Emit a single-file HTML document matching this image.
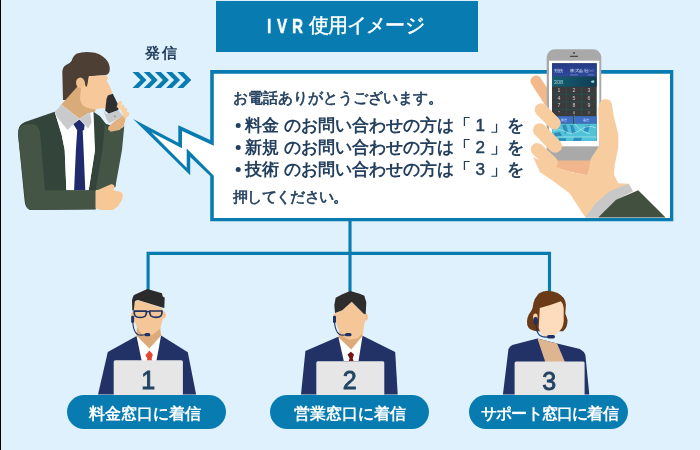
<!DOCTYPE html>
<html><head><meta charset="utf-8">
<style>
html,body{margin:0;padding:0;}
body{width:700px;height:450px;overflow:hidden;background:#dff1fd;position:relative;font-family:"Liberation Sans",sans-serif;}
svg{position:absolute;left:0;top:0;will-change:transform;}
.t{position:absolute;white-space:nowrap;line-height:1;will-change:transform;}
</style></head><body>
<svg width="700" height="450" viewBox="0 0 700 450">
  <rect x="0" y="0" width="1" height="450" fill="#000"/>
  <!-- title box -->
  <rect x="216" y="1" width="262" height="51" fill="#087cb1"/>
  <!-- connector lines -->
  <path d="M350 219 V292 M148.1 290 V253.4 H549.5 V292" fill="none" stroke="#087cb1" stroke-width="3.1"/>
  <!-- bubble -->
  <path d="M210.2,70 L673.3,70 L673.3,221.3 L210.2,221.3 L210.2,176.1 L190.2,157 L190.2,175.2 L133.1,119 L178.3,142.7 L178.3,125.3 L210.2,140 Z" fill="#087cb1"/>
  <path d="M213.8,73.7 L670,73.7 L670,217.9 L213.8,217.9 L213.8,175.7 L186.7,148.6 L186.7,167.7 L151.3,132.3 L182,148.3 L182,131 L213.8,145.7 Z" fill="#ffffff"/>
  <!-- arrows -->
  <g fill="#087cb1">
    <path d="M132.5 72 h6 l8 8 l-8 8 h-6 l8 -8 z"/>
    <path d="M143.7 72 h6 l8 8 l-8 8 h-6 l8 -8 z"/>
    <path d="M154.9 72 h6 l8 8 l-8 8 h-6 l8 -8 z"/>
    <path d="M166.1 72 h6 l8 8 l-8 8 h-6 l8 -8 z"/>
    <path d="M177.3 72 h6 l8 8 l-8 8 h-6 l8 -8 z"/>
  </g>


  <!-- hand with phone -->
  <g id="hand">
    <!-- finger 1 behind (darker) -->
    <line x1="536" y1="81" x2="549" y2="101" stroke="#f2b98c" stroke-width="11" stroke-linecap="round"/>
    <!-- phone body -->
    <rect x="546.7" y="49.3" width="54.6" height="114" rx="8" fill="#a9a9a9"/>
    <rect x="549" y="60.7" width="50.3" height="85.6" fill="#ffffff"/>
    <rect x="552" y="63.3" width="44.7" height="77.7" fill="#3b3b3b"/>
    <defs>
      <linearGradient id="hdr" x1="0" y1="0" x2="0" y2="1"><stop offset="0" stop-color="#253a86"/><stop offset="1" stop-color="#2e4a9a"/></linearGradient>
      <linearGradient id="teal" x1="0" y1="0" x2="1" y2="0"><stop offset="0" stop-color="#175f72"/><stop offset="1" stop-color="#0e3d55"/></linearGradient>
    </defs>
    <rect x="552" y="63.3" width="44.7" height="13.4" fill="url(#hdr)"/>
    <rect x="552" y="76.7" width="44.7" height="10" fill="url(#teal)"/>
    <g fill="#e8ecff" font-size="4.1" font-family="Liberation Sans, sans-serif">
      <text x="554" y="72" textLength="9.5" lengthAdjust="spacingAndGlyphs">発信先</text><text x="570" y="72" textLength="24" lengthAdjust="spacingAndGlyphs">株式会社○○</text>
    </g>
    <path d="M570,74.9 H578 M587.3,74.9 H594" stroke="#8fa3d8" stroke-width="0.6"/>
    <text x="553.8" y="84.2" fill="#9fcfd6" font-size="5.6" font-family="Liberation Sans, sans-serif" textLength="9.5" lengthAdjust="spacingAndGlyphs">308</text>
    <path d="M590.7,81.7 L592,80.6 H594.2 V82.8 H592 Z" fill="#9fcfd6"/>
    <path d="M552,94.3 H596.7 M552,101.9 H596.7 M552,109.3 H596.7 M566.3,86.7 V115.2 M581.4,86.7 V115.2" stroke="#1f5a5c" stroke-width="0.6"/>
    <g fill="#cfcfcf" font-size="5.2" font-family="Liberation Sans, sans-serif" text-anchor="middle">
      <text x="559" y="92.2">1</text><text x="574" y="92.2">2</text><text x="589" y="92.2">3</text>
      <text x="559" y="99.8">4</text><text x="574" y="99.8">5</text><text x="589" y="99.8">6</text>
      <text x="559" y="107.4">7</text><text x="574" y="107.4">8</text><text x="589" y="107.4">9</text>
      <text x="559" y="114.2" font-size="4">*</text><text x="574" y="114" font-size="4">0</text><text x="589" y="114" font-size="4">#</text>
    </g>
    <rect x="552" y="116.2" width="21" height="7.5" fill="#3e6fc4"/>
    <rect x="574.9" y="116.2" width="21.8" height="7.5" fill="#3e6fc4"/>
    <rect x="552" y="123.7" width="44.7" height="17.3" fill="#52c2d9"/>
    <g fill="#2a86b8" opacity="0.85">
      <path d="M562,125 L566,124.5 L568,131 L565,134 Z"/>
      <path d="M570,125 L573,125 L576,133 L572,134 Z"/>
      <path d="M585,126 L590,125 L588,132 L584,131 Z"/>
      <path d="M554,133 L560,132 L562,136 L555,137 Z"/>
      <path d="M574,137.5 L582,137.5 L581,141 L573,141 Z"/>
      <path d="M559,138 L566,138 L566,141 L558,141 Z"/>
    </g>
    <g fill="none" stroke="#b8eef4" stroke-width="0.7" opacity="0.9">
      <path d="M553,131 Q560,128 566,132 T580,130 T596,128"/>
      <path d="M553,137 H596.7"/>
      <path d="M575,124 Q580,131 590,134"/>
    </g>
    <path d="M574.3,115.2 V123.7" stroke="#3aa6c8" stroke-width="0.8"/>
    <g fill="#dfe6ff" font-size="3" font-family="Liberation Sans, sans-serif"><text x="560.5" y="120.8">発信</text><text x="582.5" y="120.8">着信</text></g>
    <circle cx="574" cy="52.9" r="0.9" fill="#333"/>
    <rect x="570" y="55.8" width="8" height="1" fill="#333"/>
    <!-- palm shadow -->
    <path d="M545,160.6 L592,160.6 L587.5,175.4 L571,172 L545,165 Z" fill="#f2b68c"/>
    <!-- palm / hand -->
    <path d="M533,157 L545,163 L572,172.5 L588,175 L590.6,158.9 L599.4,145.6 L598.3,110 Q598.5,100 605,99 Q611.5,99 612,105 L613.9,116.7 L618.3,134.4 L618.3,147.8 L615,163.3 L613.9,174.4 L618.3,183.3 L628.7,183.8 L632.9,191.2 L616,199.7 L598.1,217.6 L585.4,217.6 L569.6,193.3 L552.7,180.7 L540,172.2 Z" fill="#f7cda0"/>
    <!-- fingers -->
    <g stroke="#f7cda0" stroke-linecap="round">
      <line x1="541.2" y1="109.7" x2="554.2" y2="123" stroke-width="13"/>
      <line x1="539.7" y1="130" x2="555.3" y2="146" stroke-width="13.5"/>
      <line x1="537.3" y1="149.5" x2="551.3" y2="162.5" stroke-width="13"/>
    </g>
    <!-- cuff -->
    <path d="M585.4,217.6 L594.9,203.9 L609.7,191.2 L628.7,183.8 L632.9,191.2 L616,199.7 L598.1,217.6 Z" fill="#c8c8c8"/>
    <!-- sleeve -->
    <path d="M598.1,217.6 L616,199.7 L638.2,190.2 L665.6,217.6 Z" fill="#42503f"/>
  </g>
  <!-- caller -->
  <g id="caller">
    <!-- hair back -->
    <path d="M63,100 L62.3,72 Q62.8,66.5 66,65 Q70,63.5 71.5,61 Q73,55.5 77,53.5 Q84.5,50.8 95,52.8 Q104,55.5 108,62 Q110.5,67 109.5,71.5 Q108.5,75 104,75.3 L89,76.3 L87.5,87.5 L82,90 L66,100 Z" fill="#4e3f34"/>
    <!-- neck -->
    <path d="M60,106 L77,87 L86,86 L88,104 L96,110 L92,115 L80,120 L59,108 Z" fill="#d9ab78"/>
    <!-- face -->
    <path d="M84,80.1 L85.8,87.2 L87.1,85.9 L88.9,76.3 L105.8,75.3 L108,77.4 L106.7,81 L109.3,85.4 L112,91.7 L113,96 L108,108 L100,108.6 L93.3,109.2 Q85,107.5 83,105.5 Q80,102 80,98 L81,88 Z" fill="#f7c89a"/>
    <!-- ear -->
    <ellipse cx="80.3" cy="82.7" rx="4.3" ry="5.3" fill="#f2c08e"/>
    <!-- jacket body dark -->
    <path d="M18.3,130 Q19,124.5 25,122 L54.7,111.7 L61.7,135 L64.7,150 L66.4,190.3 L88.7,190.3 L95,150 L91.6,122.6 L88.9,112.8 L93.5,111.7 L100,116.3 L106,124 L122,128.5 L118,150 L115.3,186.9 L95.6,190.3 L95.6,209.5 L30,210 Q25,208 24.5,200 L18,134 Z" fill="#33443a"/>
    <!-- shirt -->
    <path d="M54.7,111.7 L61.7,104.7 L79.5,118.7 L88.9,112.8 L93.5,111.7 L95,150 L88.7,190.3 L66.4,190.3 L64.7,150 L61.7,135 Z" fill="#ffffff"/>
    <!-- tie -->
    <path d="M73.3,124.1 L79.5,119.4 L84.6,124.9 L84.2,129.5 L82.7,130.7 L83.6,150 L85.3,190.3 L74.1,190.3 L75.9,150 L77.2,130.3 Z" fill="#1f2b6c"/>
    <!-- collar -->
    <path d="M54.7,111.7 L61.7,104.7 L79.5,118.7 L73.3,124.1 L67.5,129.9 L57,117.1 Z" fill="#c9cacb"/>
    <path d="M79.5,118.7 L88.9,112.8 L90.4,113.6 L91.6,122.6 L88.1,128.8 L84.2,124.1 Z" fill="#c9cacb"/>
    <!-- left sleeve light -->
    <path d="M18,134 Q18.5,125 26,124.2 L33.3,124.2 Q38.5,125 40,132 L45,190.3 L95.6,190.3 L95.6,209.1 L32,210 Q26.5,210 25.6,203 Z" fill="#445546"/>
    <!-- right arm light (raised) -->
    <path d="M104.9,124 L108.5,129.6 L110.7,131.7 L119.7,130.1 L124.3,126 L122,150 L115.3,186.9 L95.6,190.3 L102.5,150 Z" fill="#445546"/>
    <!-- lower hand -->
    <path d="M95.6,191.1 L111,184.3 Q114.5,184 114.4,187 L113.6,190.3 L121,192 Q124,194 122.1,199.7 L117.9,206.6 L112.7,210 L100.7,210 L95.6,208.3 Z" fill="#f7c896"/>
    <!-- raised hand wrist -->
    <path d="M108.5,126.4 L114.9,121.1 L122.9,115.2 L125.6,118.9 L124,125.3 L119.7,130.1 L110.7,131.7 L108,129.6 Z" fill="#e2b17f"/>
    <!-- phone -->
    <path d="M103.2,109.9 L106.4,114.1 L118.7,110.4 L122.9,115.7 L109.6,123.2 L106.9,120 Z" fill="#c8c9ca"/>
    <path d="M111.7,93.3 L118.3,109.3" stroke="#d8d8d8" stroke-width="1.2"/>
    <path d="M107.8,95.5 L112.8,93.8 L117.8,104 L118.4,110 L108.7,113.6 L105.2,110.8 L106.5,99 Z" fill="#2f2f2f"/>
    <circle cx="114.9" cy="116.3" r="0.9" fill="#8f8f8f"/>
    <!-- fingers -->
    <path d="M116.5,107.2 L118.7,101.3 Q119.8,100.3 120.8,100.8 Q122.2,101.6 121.9,102.9 L119.7,108.3 Z" fill="#f9cfa0"/>
    <path d="M119.2,108.3 L121.9,104.5 Q123,104.3 124,105.1 Q124.8,106.3 124.5,107.7 L121.9,110.9 Z" fill="#f9cfa0"/>
    <path d="M121.3,111.5 L124,107.7 Q125.5,107.6 126.7,108.3 Q127.5,109.5 127.2,110.9 L123.5,114.7 Z" fill="#f9cfa0"/>
    <path d="M122.4,115.7 L125.6,111.5 Q127,111.3 128.3,112 Q129.5,113.3 129.3,114.7 L125.6,118.9 Z" fill="#f9cfa0"/>
  </g>

  <!-- operator 1 -->
  <g id="op1">
    <path d="M98,394.6 L107.8,352 L136.2,336.2 L161.1,335.4 L187.8,352.2 L196.1,394.6 Z" fill="#223166"/>
    <path d="M136.5,335.8 L141.7,361 L156.4,361 L161.1,335.4 Z" fill="#ffffff"/>
    <path d="M136.5,335.8 L149.4,348.6 L161.1,335.4 L160,326 L137,326 Z" fill="#dcab79"/>
    <path d="M145.4,355.2 L149.4,350.4 L152.9,354.4 L151.6,358.4 L152.2,361 L146.8,361 L147.3,358.4 Z" fill="#e04a35"/>
    <ellipse cx="133.2" cy="315.5" rx="2" ry="4" fill="#f0bf8f"/>
    <ellipse cx="164" cy="315" rx="1.8" ry="3.6" fill="#f0bf8f"/>
    <path d="M133.3,310.3 L134,302.3 L137.3,300.3 L143.3,301.7 L162,308.3 L164,311.7 L164.3,316.3 L162.7,319.7 L160,329 L152,335 L144,336.3 L138.7,330.3 L134.7,322.3 L133,317 Z" fill="#f5c697"/>
    <path d="M132.3,310.5 L132,300.3 Q132.5,297 134,295 L147.3,289 L162,293.3 L162.6,296.2 L164.7,297.7 L164.3,308 L161.3,307.3 L138,300 Q135.5,300.3 134.7,301.7 L133.8,310.5 Z" fill="#2b2b2b"/>
    <path d="M134.2,311.2 H146.4 Q146.6,314.5 145.3,316 Q143.8,317.5 140.3,317.5 Q136.5,317.5 135.2,316 Q134,314.5 134.2,311.2 Z" fill="none" stroke="#1e3163" stroke-width="1.7" stroke-linejoin="round"/>
    <path d="M149.8,311 H162 Q162.2,314.3 160.9,315.8 Q159.4,317.3 155.9,317.3 Q152.1,317.3 150.8,315.8 Q149.6,314.3 149.8,311 Z" fill="none" stroke="#1e3163" stroke-width="1.7" stroke-linejoin="round"/>
    <path d="M146.3,312 Q148,311 149.9,311.8" fill="none" stroke="#1e3163" stroke-width="1.4"/>
    <rect x="131.2" y="315.7" width="2.9" height="7.3" rx="1.3" fill="#1e3163"/>
    <path d="M132.8,322.5 Q133.5,332 137.5,334.5 Q140,335.5 145,334.8" fill="none" stroke="#1e3163" stroke-width="1.1"/>
    <rect x="144.5" y="333" width="5.8" height="3.3" rx="1.6" fill="#1e3163"/>
    <rect x="113.7" y="360.3" width="69.2" height="35" rx="1.5" fill="#e6e6e6"/>
    <text x="148.2" y="389.3" text-anchor="middle" font-family="Liberation Sans, sans-serif" font-size="25" fill="#234463" stroke="#234463" stroke-width="0.9">1</text>
  </g>
  <!-- operator 2 -->
  <g id="op2">
    <path d="M301,394.6 L305.4,351 L337.7,337 L363,336 L395.2,352 L397.7,394.6 Z" fill="#223166"/>
    <path d="M338.5,337.5 L343.8,361 L358.5,361 L362.5,336 Z" fill="#ffffff"/>
    <path d="M338.5,337.5 L351.3,349.5 L362.5,336 L362,328 L340,328 Z" fill="#dcab79"/>
    <path d="M347.5,354.6 L350.9,351.7 L354,354.4 L352.7,358.4 L353.6,361 L348.7,361 L349.6,358.4 Z" fill="#721616"/>
    <ellipse cx="335.2" cy="317.5" rx="2" ry="4" fill="#f0bf8f"/>
    <ellipse cx="366" cy="317" rx="1.8" ry="3.6" fill="#f0bf8f"/>
    <path d="M335,313 L342.3,310.3 L351.7,301.7 L363.7,313.7 L365.7,314.3 L366.3,318.3 L364.3,323.7 L363,333 L357.7,338.3 L349,339.7 L342.3,335.7 L337.7,327.7 L335,319.7 Z" fill="#f5c697"/>
    <path d="M334.3,305 L335.7,297.7 L342.3,294.3 L350.3,291 L359.7,293.7 L364.3,295.7 L366.3,302.3 L365.7,314.3 L363.7,313.7 L351.7,301.7 L342.3,310.3 L335,313 Z" fill="#2d2d2d"/>
    <rect x="333" y="315.7" width="3" height="7.3" rx="1.3" fill="#1e3163"/>
    <path d="M334.5,322.5 Q335.5,332 339.5,334.5 Q342,335.5 346,334.8" fill="none" stroke="#1e3163" stroke-width="1.1"/>
    <rect x="345" y="333" width="6.5" height="3.3" rx="1.6" fill="#1e3163"/>
    <rect x="316.3" y="361.3" width="68" height="34" rx="1.5" fill="#e6e6e6"/>
    <text x="349.8" y="389.3" text-anchor="middle" font-family="Liberation Sans, sans-serif" font-size="25" fill="#234463" stroke="#234463" stroke-width="0.9">2</text>
  </g>
  <!-- operator 3 -->
  <g id="op3">
    <path d="M502.9,394.6 L508.4,349.6 Q509.5,346 512.3,344.9 L537.4,338.6 L557.1,343.4 L579.9,348.9 Q584,351 585.4,355.1 L589.3,394.6 Z" fill="#223166"/>
    <path d="M537.4,338.6 L557.1,343.4 L564.9,362 L545.3,362 Z" fill="#deb591"/>
    <path d="M538.7,293.6 Q543,291 547.6,290.8 Q553.5,291 557.6,293 Q561.5,295 563.7,298 Q566,301.5 565.9,304.7 L565.3,313.6 Q566.5,316.5 567.6,320.2 Q567.5,324 566.4,326.9 Q565,329.5 563.1,331.3 L539.8,331.3 Q536,331.3 534.2,330.8 Q530,329.8 528.7,328 Q526.6,325 527,321.3 Q527.4,317 528.7,314.7 Q531.5,311 532.6,308 Q533.3,302.5 534.8,299.1 Z" fill="#6b3a16"/>
    <ellipse cx="535.4" cy="317" rx="2.3" ry="3.4" fill="#f5cfae"/>
    <path d="M539.8,308 Q550,305.5 560.9,301.3 Q563.3,303.5 563.7,308 L563.7,321.3 Q563.3,325 562,328 Q559,332.5 555.3,334.7 Q551.5,337 547.6,336.9 Q544.5,336.8 542,334.7 Q539.5,331.5 538.7,328 Z" fill="#fcdcbc"/>
    <rect x="533.7" y="316.9" width="3.9" height="7.8" rx="1.7" fill="#1e3163"/>
    <path d="M536,324.5 Q536.5,333 540,335.5 Q543,337.5 548,337" fill="none" stroke="#1e3163" stroke-width="1.1"/>
    <rect x="547" y="335" width="8" height="3.4" rx="1.7" fill="#1e3163"/>
    <rect x="514.6" y="361.4" width="70" height="34" rx="1.5" fill="#e6e6e6"/>
    <text x="549.2" y="389.6" text-anchor="middle" font-family="Liberation Sans, sans-serif" font-size="25" fill="#234463" stroke="#234463" stroke-width="0.9">3</text>
  </g>
  <!-- bullets -->
  <g fill="#24405e"><circle cx="238.2" cy="125.4" r="2.5"/><circle cx="238.2" cy="147.4" r="2.5"/><circle cx="238.2" cy="169.4" r="2.5"/></g>
  <!-- pills -->
  <rect x="67" y="395" width="159" height="34" rx="17" fill="#087cb1"/>
  <rect x="270" y="395" width="159" height="34" rx="17" fill="#087cb1"/>
  <rect x="469" y="395" width="159" height="34" rx="17" fill="#087cb1"/>
</svg>
<div class="t" style="left:267px;top:16px;font-size:20px;color:#fff;font-weight:bold;-webkit-text-stroke:0.6px #fff;transform:scaleX(0.75);transform-origin:0 0">I</div>
<div class="t" style="left:277px;top:16px;font-size:20px;color:#fff;font-weight:bold;-webkit-text-stroke:0.6px #fff;transform:scaleX(0.75);transform-origin:0 0">V</div>
<div class="t" style="left:292px;top:16px;font-size:20px;color:#fff;font-weight:bold;-webkit-text-stroke:0.6px #fff;transform:scaleX(0.75);transform-origin:0 0">R</div>
<div class="t" style="left:309px;top:15px;font-size:20px;color:#fff;-webkit-text-stroke:0.45px #fff;letter-spacing:-0.9px">使用イメージ</div>
<div class="t" style="left:145px;top:45px;font-size:15px;color:#24405e;font-weight:bold;letter-spacing:1.5px">発信</div>
<div class="t" style="left:233px;top:90px;font-size:15px;color:#24405e;-webkit-text-stroke:0.6px #24405e">お電話ありがとうございます。</div>
<div class="t" style="left:245px;top:117px;font-size:17px;color:#24405e;font-weight:bold">料金 のお問い合わせの方は「 <span style="font-weight:normal;-webkit-text-stroke:0.5px #24405e">1</span> 」を</div>
<div class="t" style="left:245px;top:139px;font-size:17px;color:#24405e;font-weight:bold">新規 のお問い合わせの方は「 <span style="font-weight:normal;-webkit-text-stroke:0.5px #24405e">2</span> 」を</div>
<div class="t" style="left:245px;top:161px;font-size:17px;color:#24405e;font-weight:bold">技術 のお問い合わせの方は「 <span style="font-weight:normal;-webkit-text-stroke:0.5px #24405e">3</span> 」を</div>
<div class="t" style="left:233px;top:189px;font-size:15px;color:#24405e;letter-spacing:-0.7px;-webkit-text-stroke:0.6px #24405e">押してください。</div>
<div class="t" style="left:89px;top:406px;font-size:16px;color:#fff;font-weight:bold">料金窓口に着信</div>
<div class="t" style="left:294px;top:406px;font-size:16px;color:#fff;font-weight:bold">営業窓口に着信</div>
<div class="t" style="left:481px;top:406px;font-size:16px;color:#fff;font-weight:bold;letter-spacing:-0.8px">サポート窓口に着信</div>
</body></html>
